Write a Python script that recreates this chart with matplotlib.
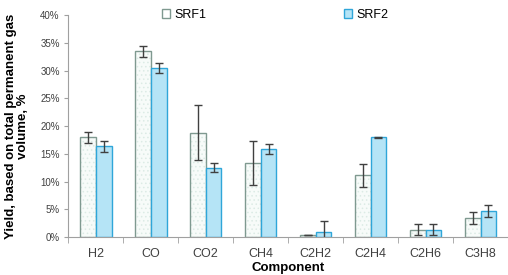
import numpy as np
import matplotlib.pyplot as plt

plt.rcParams['font.family'] = ['Liberation Sans', 'DejaVu Sans']
plt.rcParams['hatch.linewidth'] = 0.6

# dane
components = ['H2', 'CO', 'CO2', 'CH4', 'C2H2', 'C2H4', 'C2H6', 'C3H8']
srf1 = [18.0, 33.5, 18.8, 13.3, 0.3, 11.1, 1.3, 3.5]
srf1_err = [1.0, 1.0, 5.0, 4.0, 0.0, 2.0, 1.0, 1.1]
srf2 = [16.4, 30.5, 12.5, 15.8, 0.9, 18.0, 1.3, 4.7]
srf2_err = [1.0, 0.9, 0.8, 0.9, 2.0, 0.1, 1.0, 1.0]

fig = plt.figure(figsize=(5.08, 2.75), dpi=100)
ax = fig.add_axes([0.134, 0.138, 0.866, 0.807])

x = np.arange(len(components))
w = 0.29

# SRF1 - jasne tlo z kropkami
ax.bar(x - w/2, srf1, w, color='#f7fbf9', edgecolor='#dcebe5', hatch='....', linewidth=0)
ax.bar(x - w/2, srf1, w, color='none', edgecolor='#7f9990', linewidth=1.0, label='SRF1')
ax.errorbar(x - w/2, srf1, yerr=srf1_err, fmt='none', ecolor='#404040', elinewidth=1, capsize=3)

# SRF2 - niebieskie
ax.bar(x + w/2, srf2, w, color='#b5e4f6', edgecolor='#2fa6d9', linewidth=1.0, label='SRF2')
ax.errorbar(x + w/2, srf2, yerr=srf2_err, fmt='none', ecolor='#404040', elinewidth=1, capsize=3)

ax.set_xlim(-0.5, len(components) - 0.5)
ax.set_ylim(0, 40)
ax.set_yticks(np.arange(0, 41, 5))
ax.set_yticklabels([f'{v}%' for v in range(0, 41, 5)], fontsize=7, color='#404040')
ax.set_xticks(x)
ax.set_xticklabels(components, fontsize=9, color='#404040')
ax.set_xticks(np.arange(-0.5, len(components)), minor=True)
ax.tick_params(axis='x', which='major', length=0, pad=8)
ax.tick_params(axis='x', which='minor', length=4, color='#a0a0a0', direction='out')
ax.tick_params(axis='y', length=3, color='#a0a0a0', pad=3)

for s in ['top', 'right']:
    ax.spines[s].set_visible(False)
for s in ['left', 'bottom']:
    ax.spines[s].set_color('#a0a0a0')

ax.set_xlabel('Component', fontsize=9.5, fontweight='bold', labelpad=1.5)
ax.set_ylabel('Yield, based on total permanent gas\nvolume, %', fontsize=9.5,
              fontweight='bold', labelpad=8, linespacing=1.0)

ax.legend(loc='upper center', bbox_to_anchor=(0.47, 1.08), ncol=2, frameon=False,
          fontsize=9, handlelength=0.7, handleheight=0.7, handletextpad=0.3,
          columnspacing=11)

fig.savefig('out.png', dpi=100)
